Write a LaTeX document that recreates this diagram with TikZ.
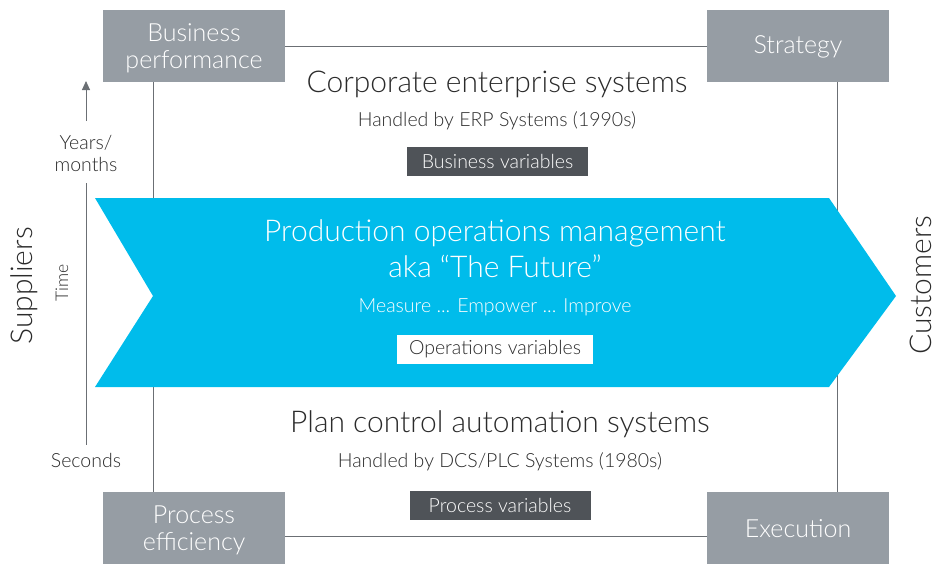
\documentclass[tikz,border=0pt]{standalone}
\usepackage{fontspec}
\setmainfont{Lato Light}
\usetikzlibrary{arrows.meta}
\definecolor{boxgray}{HTML}{969DA4}
\definecolor{darkbox}{HTML}{4F5358}
\definecolor{linegray}{HTML}{6B6F74}
\definecolor{cyanarrow}{HTML}{00BCEB}
\definecolor{txt}{HTML}{2B2B2B}
\tikzset{
  gbox/.style={fill=boxgray, draw=none, minimum width=182pt, minimum height=72pt, inner sep=0pt},
  gtext/.style={text=white, align=center, font=\fontsize{25}{27}\selectfont, inner sep=0pt},
  conn/.style={draw=linegray, line width=0.9pt},
  vbox/.style={inner sep=0pt, minimum height=29pt, font=\fontsize{19.5}{22}\selectfont},
  big/.style={text=txt, font=\fontsize{30}{33}\selectfont},
  small/.style={text=txt, font=\fontsize{19.5}{22}\selectfont},
}
\begin{document}
\begin{tikzpicture}[x=1pt,y=-1pt]
\useasboundingbox (0,0) rectangle (944,563);
\node[gbox] (bp) at (194,46) {};
\node[gbox] (st) at (798,46) {};
\node[gbox] (pe) at (194,528) {};
\node[gbox] (ex) at (798,528) {};
\node[gtext] (bpt) at (194,48.5) {Business\\performance};
\node[gtext] (stt) at (798,47) {Strategy};
\node[gtext] (pet) at (194,530.5) {Process\\efficiency};
\node[gtext] (ext) at (798,529) {Execution};
\draw[conn] (bp.east |- 0,46) -- (st.west |- 0,46);
\draw[conn] (pe.east |- 0,536) -- (ex.west |- 0,536);
\draw[conn] (bp.south -| 153,0) -- (pe.north -| 153,0);
\draw[conn] (st.south -| 837,0) -- (ex.north -| 837,0);
% chevron
\fill[cyanarrow] (95,198) -- (829,198) -- (896,296) -- (829,387) -- (95,387) -- (153,296) -- cycle;
% texts
\node[big] (ces) at (497,84) {Corporate enterprise systems};
\node[small] (erp) at (497,121) {Handled by ERP Systems (1990s)};
\node[vbox, fill=darkbox, text=white, minimum width=181pt] (bv) at (497.5,161.5) {Business variables};
\node[big, text=white] (pom) at (495,233) {Production operations management};
\node[big, text=white] (aka) at (495,266) {aka “The Future”};
\node[small, text=white] (mei) at (495,307) {Measure ... Empower ... Improve};
\node[vbox, fill=white, text=txt, minimum width=196pt] (ov) at (495,349) {Operations variables};
\node[big] (pca) at (500,424) {Plan control automation systems};
\node[small] (dcs) at (500,462) {Handled by DCS/PLC Systems (1980s)};
\node[vbox, fill=darkbox, text=white, minimum width=181pt] (pv) at (500,505) {Process variables};
% side labels
\node[big, rotate=90] (sup) at (24,286) {Suppliers};
\node[big, rotate=90] (cus) at (921,285) {Customers};
\node[small, rotate=90, font=\fontsize{17.5}{20}\selectfont] (time) at (62,283) {Time};
\node[small, align=center, font=\fontsize{19.5}{22}\selectfont] (ym) at (86,153) {Years/\\months};
\node[small] (sec) at (86,460) {Seconds};
\coordinate (atop) at (86,81);
\coordinate (abot) at (86,121);
\draw[conn, -{Triangle[length=9pt,width=8pt]}] (abot) -- (atop);
\coordinate (tl) at (86,183);
\coordinate (bl) at (86,445);
\draw[conn] (tl) -- (bl);
\end{tikzpicture}
\end{document}
